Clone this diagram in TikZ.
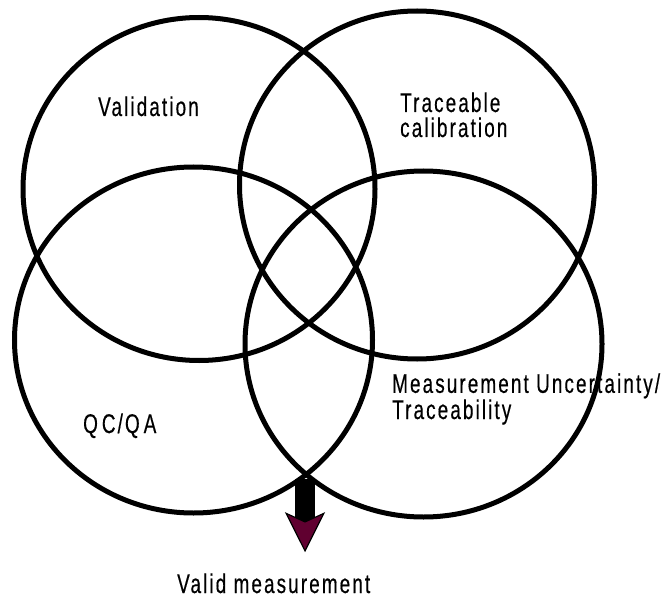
\documentclass[tikz,border=0pt]{standalone}
\usepackage{fontspec}
\setmainfont{Liberation Sans}[FakeStretch=0.7,LetterSpace=7.8,FakeBold=0.4]
\usepackage{tikz}
\usetikzlibrary{arrows.meta}
\definecolor{headmaroon}{RGB}{96,0,48}

\begin{document}
\begin{tikzpicture}[x=1bp,y=-1bp,>=Stealth]
            \useasboundingbox (0,0) rectangle (668,601);
            \tikzset{ring/.style={line width=5bp,draw=black}}
            \tikzset{every node/.style={inner sep=0pt,align=left,font=\fontsize{27bp}{25bp}\selectfont}}
            \draw[ring] (199,189)   ellipse [x radius=176,y radius=171.5];
            \draw[ring] (417,185)   ellipse [x radius=177.5,y radius=174];
            \draw[ring] (193.5,340) ellipse [x radius=179,y radius=173];
            \draw[ring] (423.5,344) ellipse [x radius=178.5,y radius=173];
            \node[anchor=base west] (validation) at (98,116)  {Validation};
            \node[anchor=base west] (traceable)  at (400,137) {Traceable\\calibration};
            \node[anchor=base west] (mu)         at (392,419) {Measurement Uncertainty/\\Traceability};
            \node[anchor=base west] (qcqa)       at (83,433)  {Q\kern4bp C/Q\kern4bp A};
            \node[anchor=base west] (valid)      at (177,593) {Valid measurement};
            \coordinate (meet) at (305,479);
            \draw[line width=20bp,shorten >=21bp,
                  -{Stealth[length=40bp,width=40bp,inset=9bp,line width=1.2bp,fill=headmaroon]}]
                  (meet) -- (meet |- valid.north);
        \end{tikzpicture}
\end{document}
